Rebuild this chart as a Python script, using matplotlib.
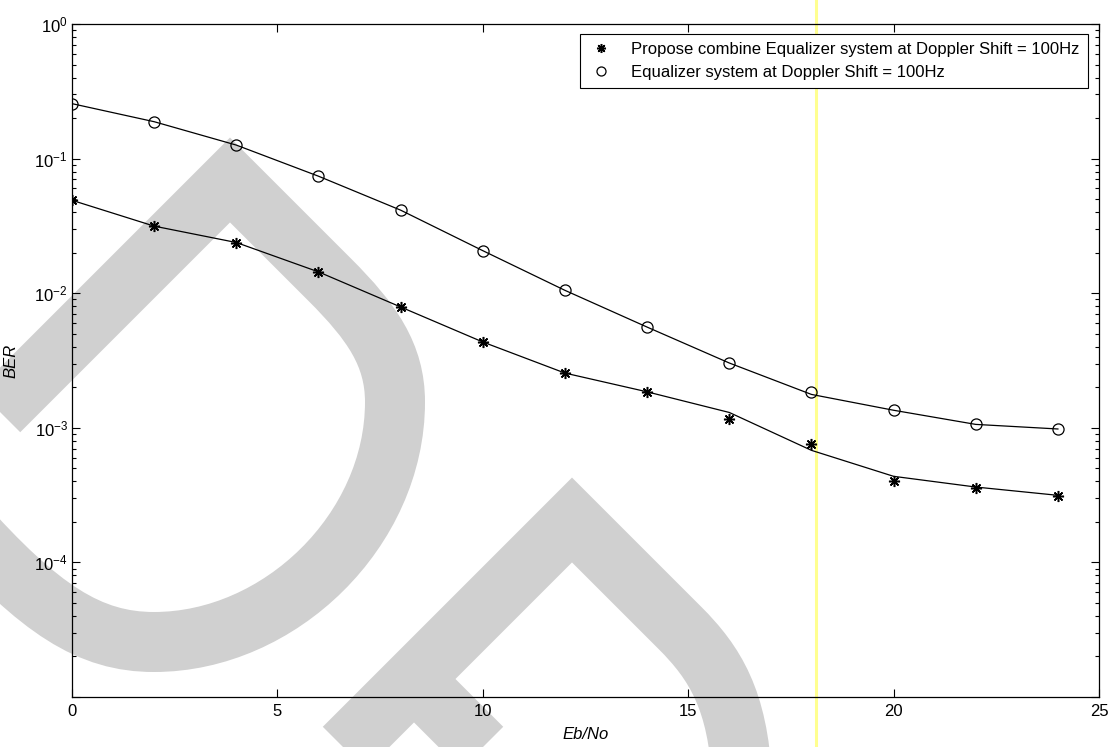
import numpy as np
import matplotlib
matplotlib.use("Agg")
import matplotlib.pyplot as plt
from matplotlib.path import Path
from matplotlib.patches import PathPatch
from matplotlib.lines import Line2D
from matplotlib.ticker import LogLocator, FixedLocator, FuncFormatter

plt.rcParams['font.family'] = ['Liberation Sans', 'DejaVu Sans']
plt.rcParams['mathtext.fontset'] = 'custom'
plt.rcParams['mathtext.rm'] = 'Liberation Sans'
plt.rcParams['mathtext.it'] = 'Liberation Sans:italic'

# ---- data ----
ebno = [0, 2, 4, 6, 8, 10, 12, 14, 16, 18, 20, 22, 24]

ber_combined_pts = [0.049, 0.0315, 0.0238, 0.0144, 0.0079, 0.00434, 0.00255,
                    0.00185, 0.00117, 0.000754, 0.00040, 0.000359, 0.00031]
ber_combined_fit = [0.049, 0.0315, 0.0238, 0.0144, 0.0079, 0.00434, 0.00255,
                    0.00185, 0.00130, 0.00068, 0.000436, 0.000363, 0.000315]

ber_equalizer_pts = [0.256, 0.188, 0.126, 0.074, 0.0414, 0.0207, 0.0105,
                     0.0056, 0.00303, 0.00184, 0.00135, 0.00106, 0.00098]
ber_equalizer_fit = [0.256, 0.188, 0.126, 0.074, 0.0414, 0.0207, 0.0105,
                     0.0056, 0.00303, 0.00177, 0.00135, 0.00106, 0.00098]

labels = ["Propose combine Equalizer system at Doppler Shift = 100Hz",
          "Equalizer system at Doppler Shift = 100Hz"]
x_ticks = [0, 5, 10, 15, 20, 25]
y_ticks = [1e-5, 1e-4, 1e-3, 1e-2, 1e-1, 1e0]

W, H = 1114, 747
FS = 12
fig = plt.figure(figsize=(W / 100, H / 100), dpi=100)
fig.patch.set_facecolor('white')


def px(x, y):
    return (x / W, 1 - y / H)


# ---- light grey background strokes ----
grey = '#d0d0d0'
stroke_w = 60 * 72 / 100

shape_a = [
    (Path.MOVETO, (-60, 470)), (Path.LINETO, (230, 180)), (Path.LINETO, (330, 280)),
    (Path.CURVE4, (372, 322)), (Path.CURVE4, (395, 355)), (Path.CURVE4, (395, 402)),
    (Path.CURVE4, (395, 530)), (Path.CURVE4, (280, 642)), (Path.CURVE4, (154, 642)),
    (Path.CURVE4, (90, 642)), (Path.CURVE4, (40, 610)), (Path.CURVE4, (-40, 520)),
]
shape_b = [
    (Path.MOVETO, (300, 792)), (Path.LINETO, (572, 520)), (Path.LINETO, (680, 628)),
    (Path.CURVE4, (715, 663)), (Path.CURVE4, (738, 700)), (Path.CURVE4, (742, 780)),
]
shape_c = [
    (Path.MOVETO, (314, 780)), (Path.LINETO, (414, 680)), (Path.LINETO, (514, 780)),
]
for shape in (shape_a, shape_b, shape_c):
    codes = [c for c, _ in shape]
    verts = [px(*p) for _, p in shape]
    patch = PathPatch(Path(verts, codes), facecolor='none', edgecolor=grey,
                      lw=stroke_w, joinstyle='miter', capstyle='butt',
                      transform=fig.transFigure, zorder=-2)
    fig.add_artist(patch)

# thin yellow vertical rule
fig.add_artist(Line2D([816 / W, 816 / W], [0, 1], transform=fig.transFigure,
                      color='#ffff90', lw=2.2, zorder=-1))

# ---- axes ----
left, right, top, bottom = 72, 1099, 24, 697
ax = fig.add_axes([left / W, 1 - bottom / H, (right - left) / W, (bottom - top) / H])
ax.set_facecolor('none')
ax.set_yscale('log')
ax.set_xlim(0, 25)
ax.set_ylim(1e-5, 1e0)

star = (8, 2, 0)
ax.plot(ebno, ber_combined_fit, color='black', lw=0.9)
ax.plot(ebno, ber_equalizer_fit, color='black', lw=0.9)
ax.plot(ebno, ber_combined_pts, linestyle='none', marker=star, ms=8,
        mec='black', mew=1.1, color='black', label=labels[0])
ax.plot(ebno, ber_equalizer_pts, linestyle='none', marker='o', ms=8,
        mfc='none', mec='black', mew=0.9, color='black', label=labels[1])

ax.set_xticks(x_ticks)
ax.xaxis.set_major_formatter(FuncFormatter(lambda v, p: f"{int(v)}"))
ax.yaxis.set_major_locator(FixedLocator(y_ticks))


def yfmt(v, p):
    e = int(round(np.log10(v)))
    if e == -5:
        return ""
    return r"$\mathregular{10^{%d}}$" % e


ax.yaxis.set_major_formatter(FuncFormatter(yfmt))
ax.yaxis.set_minor_locator(LogLocator(base=10, subs=np.arange(2, 10)))
ax.yaxis.set_minor_formatter(FuncFormatter(lambda v, p: ""))

ax.tick_params(which='both', direction='in', top=True, right=True,
               labelsize=FS, colors='black', width=0.8)
ax.tick_params(which='major', length=5.8)
ax.tick_params(axis='x', which='major', pad=5)
ax.tick_params(axis='y', which='major', pad=3)
ax.tick_params(which='minor', length=3)
for s in ax.spines.values():
    s.set_linewidth(0.9)
    s.set_color('black')

ax.set_xlabel('Eb/No', fontsize=FS, style='italic')
ax.set_ylabel('BER', fontsize=FS, style='italic')
ax.xaxis.set_label_coords(0.5, (bottom - 727) / (bottom - top))
ax.yaxis.set_label_coords((18 - left) / (right - left), 0.5)

leg = ax.legend(loc='upper right', bbox_to_anchor=(1088 / W, 1 - 34 / H),
                bbox_transform=fig.transFigure, fontsize=FS, frameon=True,
                fancybox=False, edgecolor='black', framealpha=1,
                borderpad=0.5, labelspacing=0.45, handlelength=1.6,
                handletextpad=1.0, borderaxespad=0)
leg.get_frame().set_linewidth(0.8)
for h in leg.legend_handles:
    h.set_markersize(6.5)

fig.savefig('out.png', dpi=100)
